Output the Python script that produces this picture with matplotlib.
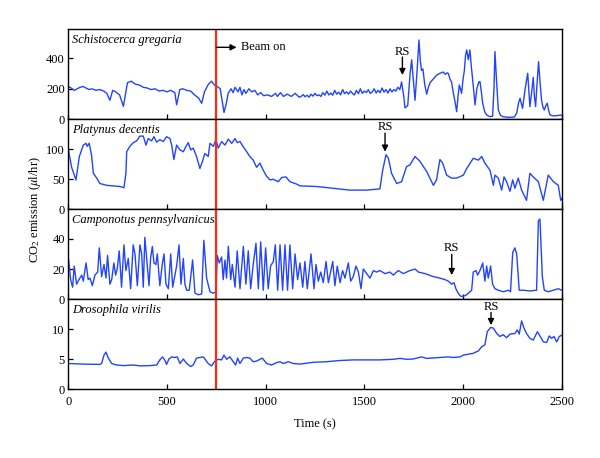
import matplotlib
matplotlib.use("Agg")
import matplotlib.pyplot as plt

plt.rcParams['font.family'] = ['Liberation Serif', 'DejaVu Serif']
plt.rcParams['mathtext.fontset'] = 'stix'
plt.rcParams['font.size'] = 9

# Schistocerca gregaria
t1 = [0, 15, 30, 45, 60, 75, 90, 105, 120, 140, 160, 180, 195, 211, 225, 240, 260, 279, 292,
      300, 320, 340, 360, 380, 400, 420, 440, 460, 480, 500, 520, 540, 549, 565, 580, 600, 620,
      640, 660, 676, 690, 710, 726, 740, 755, 770, 780, 789, 800, 810, 825, 835, 845, 860, 870,
      880, 890, 900, 915, 930, 945, 960, 975, 990, 1010, 1030, 1050, 1060, 1075, 1090, 1110,
      1130, 1150, 1170,
      1180, 1190, 1200, 1210, 1220, 1230, 1240, 1250, 1260, 1270, 1280, 1290, 1300, 1310, 1320,
      1330, 1340, 1350, 1360, 1370, 1380, 1390, 1400, 1410, 1420, 1430, 1440, 1450, 1460, 1470,
      1480, 1490, 1500, 1510, 1520, 1530, 1540, 1550, 1560, 1570, 1580, 1590, 1600, 1610, 1620,
      1630, 1640, 1650, 1660, 1670, 1680,
      1689, 1700,
      1706, 1720, 1732, 1740, 1750, 1757, 1768, 1777, 1784, 1790, 1797, 1806, 1816, 1825, 1833,
      1850, 1867, 1880, 1890, 1900, 1910, 1920, 1926, 1935, 1942, 1950, 1959, 1968, 1975, 1981,
      1987, 1993, 2000, 2007, 2013, 2019, 2027, 2035, 2042, 2049, 2055, 2061, 2070, 2080, 2086,
      2093, 2100, 2110, 2120, 2135, 2150, 2157, 2162, 2168, 2179, 2190, 2204, 2230, 2260, 2272,
      2282, 2289, 2302, 2315, 2328, 2339, 2350, 2356, 2362, 2368, 2376, 2383, 2390, 2398, 2405,
      2412, 2420, 2427, 2434, 2441, 2460, 2480, 2500]
v1 = [215, 205, 190, 200, 210, 215, 205, 195, 200, 190, 195, 185, 170, 125, 190, 180, 160, 85, 180,
      240, 250, 230, 225, 210, 205, 195, 200, 185, 190, 180, 190, 175, 95, 195, 200, 190, 185,
      160, 140, 105, 180, 230, 250, 225, 215, 200, 120, 45, 100, 170, 200, 175, 210, 180, 210,
      160, 195, 170, 200, 180, 190, 160, 175, 155, 160, 150, 170, 150, 175, 150, 165,
      150, 170, 145,
      150, 162, 148, 158, 145, 165, 152, 170, 155, 160, 150, 175, 158, 185, 160,
      172, 158, 190, 165, 178, 160, 195, 168, 180, 165, 185, 170, 160, 190, 168,
      200, 170, 185, 175, 195, 170, 180, 200, 172, 190, 175, 205, 178, 195, 172,
      200, 180, 195, 185, 210, 195,
      245, 150,
      75, 90, 300, 390, 230, 125, 330, 520, 380, 320, 330, 230, 165, 210, 240,
      265, 290, 300, 305, 310, 295, 305, 300, 260, 245, 180, 120, 50, 150, 225,
      200, 170, 260, 320, 420, 455, 390, 455, 350, 260, 180, 94, 200, 245, 247,
      180, 105, 50, 28, 18, 20, 200, 444, 300, 61, 25, 17, 13, 15, 39,
      110, 138, 72, 200, 302, 83, 200, 275, 150, 83, 250, 378, 250, 127, 80,
      61, 90, 105, 60, 28, 22, 25, 28]

# Platynus decentis
t2 = [0, 17, 39, 56, 76, 90, 96, 106, 118, 127, 144, 160, 194, 228, 262, 282, 292, 296, 312, 329,
      346, 363, 380, 394, 405, 422, 434, 448, 464, 481, 498, 515, 524, 535, 549, 566, 583, 595,
      608, 620, 633, 650, 667, 679, 692, 709, 718, 735, 748, 760, 777, 794, 811, 828, 845, 856,
      870, 887, 904, 920, 937, 954, 971, 988, 1005, 1022, 1039, 1064, 1081, 1103, 1123, 1157,
      1174, 1258, 1343, 1427, 1512, 1579, 1593, 1610, 1622, 1638, 1664, 1689, 1714, 1731, 1757,
      1782, 1816, 1850, 1866, 1883, 1897, 1917, 1942, 1968, 2002, 2019, 2052, 2078, 2095, 2111,
      2137, 2154, 2162, 2179, 2196, 2208, 2221, 2238, 2252, 2263, 2280, 2297, 2322, 2339, 2356,
      2382, 2407, 2432, 2458, 2483, 2495, 2500]
v2 = [100, 70, 49, 88, 107, 110, 105, 110, 90, 60, 52, 43, 40, 39, 38, 36, 60, 96, 105, 111,
      114, 122, 122, 107, 118, 114, 121, 112, 116, 113, 121, 118, 107, 83, 107, 99, 96, 104,
      111, 99, 102, 88, 68, 79, 93, 88, 110, 105, 116, 102, 113, 107, 117, 110, 118, 111,
      113, 104, 96, 88, 82, 70, 77, 65, 55, 49, 50, 46, 53, 54, 46, 42,
      39, 38, 35, 32, 32, 34, 65, 91, 85, 60, 43, 46, 71, 74, 88,
      80, 63, 40, 49, 83, 77, 57, 52, 52, 57, 68, 85, 82, 88, 77,
      65, 40, 57, 52, 32, 54, 46, 30, 49, 35, 52, 32, 15, 60, 54,
      46, 15, 57, 46, 40, 15, 18]

# Camponotus pennsylvanicus
t3 = [0, 12, 22, 30, 42, 54, 68, 76, 90, 101, 110, 122, 135, 149, 157, 169, 181, 191, 199, 211,
      220, 231, 240, 248, 258, 270, 282, 292, 304, 316, 329, 338, 350, 363, 372, 380, 388, 399,
      409, 417, 426, 434, 444, 451, 464, 476, 485, 495, 507, 519, 529, 549, 561, 571, 583, 591,
      600, 613, 630, 642, 659, 676, 687, 701, 718, 735, 748, 755, 765, 777, 785, 794, 802, 811,
      823, 831, 845, 856, 870, 887, 900, 912, 924, 937, 951, 963, 975, 988, 1000, 1013, 1025,
      1039, 1049, 1061, 1073, 1086, 1098, 1111, 1123, 1137, 1149, 1162, 1174, 1188, 1199, 1211,
      1230, 1245, 1255, 1267, 1279, 1292, 1306, 1318, 1340, 1351, 1363, 1377, 1390, 1402, 1419,
      1431, 1444, 1458, 1470, 1483, 1495, 1512, 1529, 1546, 1562, 1579, 1605, 1630, 1647, 1672,
      1698, 1731, 1757, 1774, 1807, 1850, 1883, 1909, 1926, 1942, 1954, 1964, 1976, 1988, 2002,
      2019, 2044, 2052, 2066, 2074, 2086, 2100, 2111, 2120, 2128, 2140, 2150, 2162, 2179, 2204,
      2230, 2241, 2252, 2263, 2272, 2285, 2306, 2339, 2373, 2382, 2390, 2402, 2412, 2432, 2458,
      2483, 2500]
v3 = [28, 13, 8, 22, 10, 13, 16, 12, 24, 13, 14, 9, 16, 18, 34, 15, 23, 14, 29, 10,
      13, 24, 16, 20, 32, 8, 36, 19, 27, 7, 36, 30, 9, 36, 30, 8, 41, 24,
      9, 27, 35, 24, 23, 30, 9, 23, 30, 10, 7, 30, 8, 22, 36, 10, 27, 10,
      6, 6, 26, 4, 3, 3.5, 39, 14, 5, 4, 5, 29, 24, 28, 13, 26, 14, 35,
      13, 23, 8, 32, 7, 35, 10, 32, 7, 23, 37, 7, 38, 6, 34, 7, 22,
      25, 36, 6, 36, 6, 36, 6, 36, 7, 30, 13, 24, 8, 25, 7,
      30, 7, 23, 12, 18, 11, 25, 11, 25, 9, 22, 11, 19, 14, 24,
      12, 15, 22, 18, 7, 20, 17, 14, 19, 18, 19, 17, 18, 16, 19,
      17, 19, 20, 18, 17, 15, 14, 13, 12, 10, 11, 7, 4, 2, 2,
      3, 6, 18, 19, 16, 19, 24, 12, 22, 14, 22, 10, 7, 6, 5,
      6, 5, 31, 34, 30, 6, 6, 5.5, 6, 52, 53, 15, 6, 5, 6,
      7, 6]

# Drosophila virilis
t4 = [0, 76, 160, 169, 181, 191, 203, 220, 245, 279, 329, 363, 414, 448, 464, 478, 490, 498, 510,
      524, 540, 552, 566, 583, 600, 620, 633, 650, 667, 684, 696, 709, 726, 743, 760, 777, 789,
      802, 819, 836, 848, 858, 870, 887, 904, 920, 937, 954, 983, 1005, 1030, 1056, 1073, 1089,
      1115, 1140, 1174, 1242, 1309, 1377, 1444, 1512, 1579, 1647, 1681, 1714, 1748, 1790, 1816,
      1883, 1926, 1951, 1985, 2002, 2019, 2052, 2078, 2095, 2111, 2123, 2140, 2154, 2171, 2187,
      2204, 2221, 2238, 2263, 2275, 2285, 2297, 2309, 2322, 2339, 2356, 2377, 2390, 2407, 2424,
      2437, 2449, 2461, 2475, 2488, 2500]
v4 = [4.3, 4.2, 4.15, 4.3, 5.7, 6.2, 5.2, 4.3, 4.05, 3.95, 4.05, 3.9, 3.95, 4.05, 4.9, 5.4, 4.8,
      4.15, 5.05, 5.4, 5.3, 5.4, 4.3, 5.05, 4.3, 3.8, 4.05, 5.2, 5.3, 5.4, 4.9, 4.3, 3.9, 4.7,
      5.0, 4.9, 5.7, 5.0, 5.4, 4.6, 4.05, 5.2, 4.3, 5.2, 5.3, 5.2, 4.6, 4.7, 5.2, 4.3, 4.05,
      4.45, 4.6, 4.3, 4.6, 4.3, 4.2, 4.5, 4.6, 4.8, 4.9, 4.9, 4.9, 5.0, 5.15, 5.0, 5.05, 5.4,
      5.15, 5.3, 5.4, 5.3, 5.4, 5.7, 5.8, 6.0, 6.4, 7.1, 7.4, 9.6, 10.3, 10.2, 9.3, 8.8, 9.1,
      8.6, 9.2, 9.3, 9.9, 9.2, 11.4, 10.2, 9.3, 8.5, 8.2, 9.6, 8.9, 7.9, 7.8, 8.9, 8.5, 8.8,
      7.9, 8.8, 9.0]

species = ['Schistocerca gregaria', 'Platynus decentis',
           'Camponotus pennsylvanicus', 'Drosophila virilis']
ylims = [590, 150, 59.5, 15]
yticks = [[0, 200, 400], [0, 50, 100], [0, 20, 40], [0, 5, 10]]
# RS marker: time, text level, arrow start, arrow tip
rs_marks = [(1693, 443, 408, 290), (1605, 137, 127, 96),
            (1943, 33.7, 29.7, 16), (2142, 13.8, 12.8, 10.7)]
beam_on = 750

series = [(t1, v1), (t2, v2), (t3, v3), (t4, v4)]

fig = plt.figure(figsize=(6, 4.58), dpi=100)
left, width = 0.1138, 0.8223
h = 0.1965
bottom0 = 0.15
axes = []
for i in range(4):
    ax = fig.add_axes([left, bottom0 + (3 - i) * h, width, h])
    axes.append(ax)
    t, v = series[i]
    ax.plot(t, v, color='#2244ff', lw=1.0)
    ax.axvline(beam_on, color='#ff2a0a', lw=1.6)
    ax.set_xlim(0, 2500)
    ax.set_ylim(0, ylims[i])
    ax.set_yticks(yticks[i])
    ax.set_xticks([0, 500, 1000, 1500, 2000, 2500])
    ax.tick_params(direction='in', length=3.5, width=0.9, pad=2.5, labelsize=9)
    ax.tick_params(axis='x', pad=5)
    for s in ax.spines.values():
        s.set_linewidth(1.0)
    if i < 3:
        ax.tick_params(axis='x', labelbottom=False)
    ax.text(0.008, 0.885, species[i], transform=ax.transAxes, style='italic',
            ha='left', va='center', fontsize=9)
    rt, ytxt, y0, y1 = rs_marks[i]
    ax.text(rt, ytxt, 'RS', ha='center', va='center', fontsize=9)
    ax.annotate('', xy=(rt, y1), xytext=(rt, y0),
                arrowprops=dict(arrowstyle='-|>', color='black', lw=1.0,
                                mutation_scale=9, shrinkA=0, shrinkB=0))

axes[0].annotate('', xy=(853, 472), xytext=(750, 472),
                 arrowprops=dict(arrowstyle='-|>', color='black', lw=1.0,
                                 mutation_scale=9, shrinkA=0, shrinkB=0))
axes[0].text(873, 472, 'Beam on', ha='left', va='center', fontsize=9)

axes[3].set_xlabel('Time (s)', fontsize=9, labelpad=7)
fig.text(0.058, 0.543, r'CO$_2$ emission ($\mu$l/hr)', rotation=90,
         ha='center', va='center', fontsize=9)

fig.savefig('out.png', dpi=100)
